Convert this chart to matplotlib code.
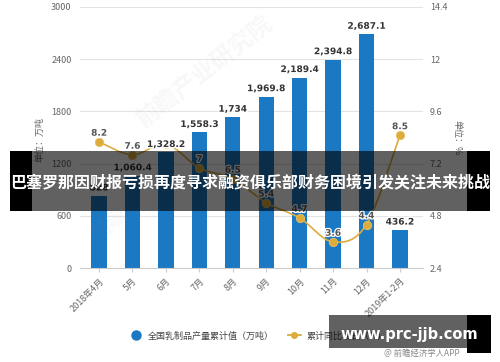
import matplotlib
matplotlib.use("Agg")
import matplotlib.pyplot as plt
from matplotlib.patches import Rectangle
from matplotlib.path import Path
from matplotlib.patches import PathPatch
from matplotlib.lines import Line2D
import matplotlib.patheffects as pe
import numpy as np

plt.rcParams['font.family'] = ['Noto Sans CJK SC', 'DejaVu Sans']

categories = ["2018年4月", "5月", "6月", "7月", "8月", "9月", "10月", "11月", "12月", "2019年1-2月"]
production = [828, 1060.4, 1328.2, 1558.3, 1734, 1969.8, 2189.4, 2394.8, 2687.1, 436.2]
growth = [8.2, 7.6, 8.1, 7.0, 6.5, 5.4, 4.7, 3.6, 4.4, 8.5]
left_ticks = [0, 600, 1200, 1800, 2400, 3000]
right_ticks = [2.4, 4.8, 7.2, 9.6, 12, 14.4]
legend_labels = ["全国乳制品产量累计值（万吨）", "累计同比增长（%）"]
banner_text = "巴塞罗那因财报亏损再度寻求融资俱乐部财务困境引发关注未来挑战"

W, H = 500, 362
fig = plt.figure(figsize=(W / 100, H / 100), dpi=100)

def fx(x):
    return x / W

def fy(y):
    return 1 - y / H

BAR = "#1b79c4"
GOLD = "#dcac3c"
TXT = "#666666"

ax = fig.add_axes([fx(80), fy(268), fx(423) - fx(80), fy(7) - fy(268)])
x = np.arange(len(categories))
ax.bar(x, production, width=0.46, color=BAR, zorder=2)
ax.set_xlim(-0.57, 9.69)
ax.set_ylim(0, 3000)
ax.set_yticks(left_ticks)
ax.set_yticklabels([str(t) for t in left_ticks])
ax.grid(axis='y', color='#e3e3e3', linewidth=0.8, zorder=0)
for s in ['top', 'right', 'left']:
    ax.spines[s].set_visible(False)
ax.spines['bottom'].set_color('#cccccc')
ax.tick_params(axis='y', length=0, pad=6, labelsize=6.5, labelcolor=TXT)
ax.set_xticks(x)
ax.set_xticklabels(categories, rotation=45, ha='right', rotation_mode='anchor')
ax.tick_params(axis='x', length=3, color='#cccccc', pad=3, labelsize=6.5, labelcolor=TXT)

ax2 = ax.twinx()
ax2.set_ylim(2.4, 14.4)
ax2.set_yticks(right_ticks)
ax2.set_yticklabels([f"{t:g}" for t in right_ticks])
for s in ['top', 'right', 'left', 'bottom']:
    ax2.spines[s].set_visible(False)
ax2.tick_params(axis='y', length=0, pad=5, labelsize=6.5, labelcolor=TXT)

# smooth curve through the data points (Catmull-Rom -> cubic Bezier)
pts = np.column_stack([x, growth]).astype(float)
n = len(pts)
verts = [tuple(pts[0])]
codes = [Path.MOVETO]
for i in range(n - 1):
    p0 = pts[i - 1] if i > 0 else pts[i]
    p1 = pts[i]
    p2 = pts[i + 1]
    p3 = pts[i + 2] if i + 2 < n else pts[i + 1]
    c1 = p1 + (p2 - p0) / 6.0
    c2 = p2 - (p3 - p1) / 6.0
    verts += [tuple(c1), tuple(c2), tuple(p2)]
    codes += [Path.CURVE4] * 3
ax2.add_patch(PathPatch(Path(verts, codes), facecolor='none', edgecolor=GOLD, linewidth=1.2, zorder=3))
ax2.plot(x, growth, linestyle='none', marker='o', markersize=6, color=GOLD,
         markeredgecolor='#e8c060', markeredgewidth=0.6, zorder=4)
for i, (xi, v) in enumerate(zip(x, growth)):
    if i == 2:
        continue
    ax2.annotate(f"{v:g}", (xi, v), xytext=(0, 3), textcoords='offset points',
                 ha='center', va='bottom', fontsize=6.5, fontweight='bold', color='#555555',
                 family=['DejaVu Sans'], zorder=5,
                 path_effects=[pe.withStroke(linewidth=1.8, foreground='white')])

# bar value labels (drawn above the line, with white halo)
for xi, v in zip(x, production):
    ax2.annotate(f"{v:,g}", (xi, v), xycoords=ax.transData, xytext=(0, 2.5),
                 textcoords='offset points', ha='center', va='bottom', fontsize=6.5,
                 fontweight='bold', color='#333333', family=['DejaVu Sans'], zorder=6,
                 path_effects=[pe.withStroke(linewidth=2.2, foreground='white')])

# axis unit labels
fig.text(fx(40), fy(140), "单位：万吨", rotation=90, ha='center', va='center', fontsize=6.5, color=TXT)
fig.text(fx(457), fy(138), "单位：%", rotation=270, ha='center', va='center', fontsize=6.5, color=TXT)

# faint watermark
fig.text(fx(205), fy(72), "前瞻产业研究院", rotation=38, ha='center', va='center',
         fontsize=17, color='#999999', alpha=0.07, fontweight='bold')
fig.text(fx(110), fy(225), "前瞻", rotation=38, ha='center', va='center',
         fontsize=14, color='#999999', alpha=0.06, fontweight='bold')

# legend
handles = [Line2D([], [], linestyle='none', marker='o', markersize=6.5, color=BAR),
           Line2D([], [], color=GOLD, linewidth=1.3, marker='o', markersize=4)]
fig.legend(handles, legend_labels, loc='center', bbox_to_anchor=(fx(258), fy(336)), ncol=2,
           frameon=False, fontsize=6.5, handlelength=1.4, handletextpad=0.6, columnspacing=1.6,
           labelcolor='#444444')

# banner overlay
fig.add_artist(Rectangle((fx(10), fy(211)), fx(32) - fx(10), fy(151) - fy(211),
                         transform=fig.transFigure, facecolor='black', edgecolor='none', zorder=10))
fig.add_artist(Rectangle((fx(32), fy(211)), fx(467) - fx(32), fy(151) - fy(211),
                         transform=fig.transFigure, facecolor='black', alpha=0.62, edgecolor='none', zorder=10))
fig.add_artist(Rectangle((fx(467), fy(211)), fx(490) - fx(467), fy(151) - fy(211),
                         transform=fig.transFigure, facecolor='black', edgecolor='none', zorder=10))
fig.text(fx(250), fy(183), banner_text, ha='center', va='center', fontsize=11.5,
         fontweight='bold', color='white', zorder=11)

# bottom watermark
fig.add_artist(Rectangle((fx(329), fy(348)), fx(467) - fx(329), fy(315) - fy(348),
                         transform=fig.transFigure, facecolor='black', alpha=0.62, edgecolor='none', zorder=10))
fig.add_artist(Rectangle((fx(467), fy(353)), fx(491) - fx(467), fy(315) - fy(353),
                         transform=fig.transFigure, facecolor='black', edgecolor='none', zorder=10))
fig.text(fx(409), fy(334), "www.prc-jjb.com", ha='center', va='center', fontsize=10.5,
         fontweight='bold', color='white', family=['DejaVu Sans'], zorder=11)
fig.text(fx(422), fy(353), "@ 前瞻经济学人APP", ha='center', va='center', fontsize=6,
         color='#888888', zorder=11)

fig.savefig("out.png", dpi=100)
